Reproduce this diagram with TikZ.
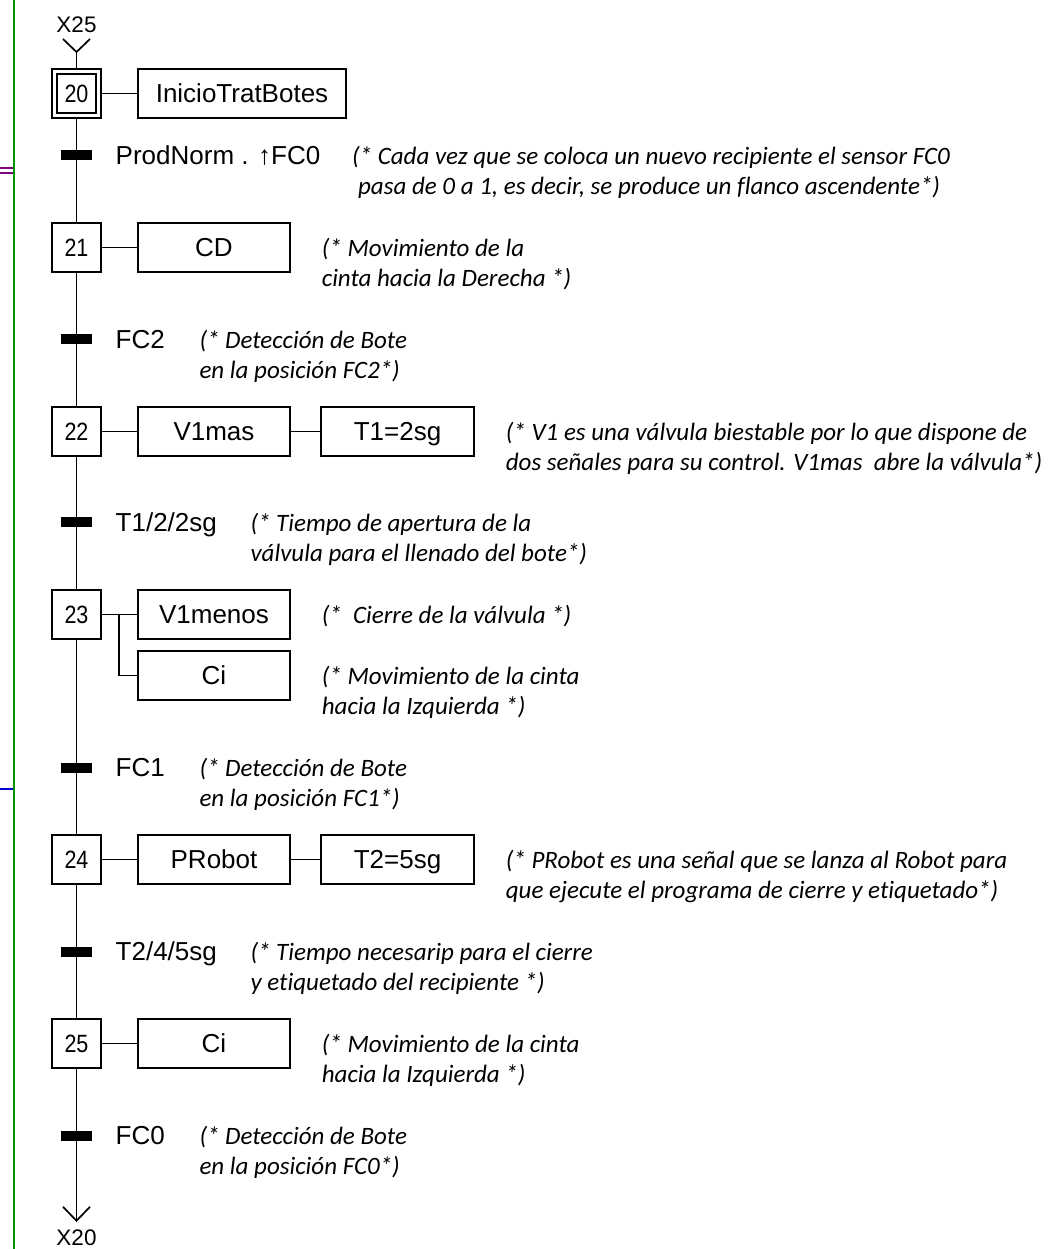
\documentclass[tikz,border=0pt]{standalone}
\usepackage{fontspec}
\usepackage{graphicx}
\setmainfont{Liberation Sans}
\newfontfamily\cmtfont[Ligatures=NoCommon]{Carlito}
\usetikzlibrary{arrows.meta,positioning}

\definecolor{railgreen}{RGB}{0,150,0}
\definecolor{linkpurple}{RGB}{128,0,128}
\definecolor{linkblue}{RGB}{0,0,210}

\newcommand{\numfont}{\fontsize{25}{28}\selectfont}
\newcommand{\reffont}{\fontsize{22.5}{26}\selectfont}
\newcommand{\lblfont}{\fontsize{26}{30}\selectfont}
\newcommand{\cmtstyle}{\cmtfont\itshape\fontsize{25}{30}\selectfont}
\newcommand{\stepnum}[1]{\scalebox{0.86}[1]{#1}}

\begin{document}
\begin{tikzpicture}[
  x=1pt, y=-1pt,
  line width=1.7pt,
  >={Straight Barb[length=14pt,width=27pt]},
  stepbox/.style={draw, minimum size=49pt, inner sep=0pt, outer sep=0pt,
                  font=\numfont, text height=18pt, text depth=0pt},
  act/.style    ={draw, minimum width=152pt, minimum height=49pt, inner sep=0pt,
                  outer sep=0pt, font=\lblfont, text height=18.5pt, text depth=0pt},
  bar/.style    ={fill=black, minimum width=31pt, minimum height=10pt, inner sep=0pt},
  trlbl/.style  ={font=\lblfont, inner sep=0pt, text height=18.5pt, text depth=0pt},
  cmt/.style    ={font=\cmtstyle, align=left, inner sep=0pt},
  twoline/.style={cmt, yshift=-30pt},
  ref/.style    ={font=\reffont, inner sep=0pt},
]
\useasboundingbox (0,0) rectangle (1049,1249);

%% ---------------- links to the rest of the chart ----------------
\draw[railgreen, line width=2.2pt] (14,0) -- (14,1249);
\draw[linkpurple, line width=2pt] (0,168.5) -- (13,168.5) (0,173.5) -- (13,173.5);
\draw[linkblue, line width=2pt] (0,789) -- (13,789);

%% ---------------- entry from X25 ----------------
\node[ref] (x25) at (76.5,25) {X25};
\coordinate (in25) at (76.5,52);
\draw (in25) +(-13.5,-13) -- (in25) -- +(13.5,-13);

%% ---------------- step 20 (initial) ----------------
\node[stepbox] (s20) at (76.5,93.5) {\stepnum{20}};
\node[stepbox, minimum size=39pt] (s20in) at (s20) {};
\node[act, minimum width=208pt, right=37pt of s20] (a20) {InicioTratBotes};

\node[bar] (t20) at (76.5,155) {};
\node[trlbl, right=22pt of t20] (l20) {ProdNorm . ↑FC0};
\node[twoline, right=30pt of l20.base east, anchor=base west] (c20)
  {(* Cada vez que se coloca un nuevo recipiente el sensor FC0\\
   \hspace{6pt}pasa de 0 a 1, es decir, se produce un flanco ascendente*)};

%% ---------------- step 21 ----------------
\node[stepbox] (s21) at (76.5,247.5) {\stepnum{21}};
\node[act, right=37pt of s21] (a21) {CD};
\node[twoline, right=31pt of a21.base east, anchor=base west] (c21)
  {(* Movimiento de la\\ cinta hacia la Derecha *)};

\node[bar] (t21) at (76.5,339) {};
\node[trlbl, right=22pt of t21] (l21) {FC2};
\node[twoline, right=33pt of l21.base east, anchor=base west] (c21t)
  {(* Detección de Bote\\ en la posición FC2*)};

%% ---------------- step 22 ----------------
\node[stepbox] (s22) at (76.5,431.5) {\stepnum{22}};
\node[act, right=37pt of s22] (a22a) {V1mas};
\node[act, minimum width=153pt, right=31pt of a22a] (a22b) {T1=2sg};
\node[twoline, right=31pt of a22b.base east, anchor=base west] (c22)
  {(* V1 es una válvula biestable por lo que dispone de\\
   dos señales para su control. V1mas\ \ abre la válvula*)};

\node[bar] (t22) at (76.5,522) {};
\node[trlbl, right=22pt of t22] (l22) {T1/2/2sg};
\node[twoline, right=32pt of l22.base east, anchor=base west] (c22t)
  {(* Tiempo de apertura de la\\ válvula para el llenado del bote*)};

%% ---------------- step 23 ----------------
\node[stepbox] (s23) at (76.5,614.5) {\stepnum{23}};
\node[act, right=37pt of s23] (a23a) {V1menos};
\node[act, below=12pt of a23a] (a23b) {Ci};
\node[cmt, right=31pt of a23a.base east, anchor=base west] (c23a)
  {(*\ \ Cierre de la válvula *)};
\node[twoline, right=31pt of a23b.base east, anchor=base west] (c23b)
  {(* Movimiento de la cinta\\ hacia la Izquierda *)};

\node[bar] (t23) at (76.5,767.5) {};
\node[trlbl, right=22pt of t23] (l23) {FC1};
\node[twoline, right=33pt of l23.base east, anchor=base west] (c23t)
  {(* Detección de Bote\\ en la posición FC1*)};

%% ---------------- step 24 ----------------
\node[stepbox] (s24) at (76.5,859.5) {\stepnum{24}};
\node[act, right=37pt of s24] (a24a) {PRobot};
\node[act, minimum width=153pt, right=31pt of a24a] (a24b) {T2=5sg};
\node[twoline, right=31pt of a24b.base east, anchor=base west] (c24)
  {(* PRobot es una señal que se lanza al Robot para\\
   que ejecute el programa de cierre y etiquetado*)};

\node[bar] (t24) at (76.5,951.5) {};
\node[trlbl, right=22pt of t24] (l24) {T2/4/5sg};
\node[twoline, right=32pt of l24.base east, anchor=base west] (c24t)
  {(* Tiempo necesarip para el cierre\\ y etiquetado del recipiente *)};

%% ---------------- step 25 ----------------
\node[stepbox] (s25) at (76.5,1043.5) {\stepnum{25}};
\node[act, right=37pt of s25] (a25) {Ci};
\node[twoline, right=31pt of a25.base east, anchor=base west] (c25)
  {(* Movimiento de la cinta\\ hacia la Izquierda *)};

\node[bar] (t25) at (76.5,1135.5) {};
\node[trlbl, right=22pt of t25] (l25) {FC0};
\node[twoline, right=33pt of l25.base east, anchor=base west] (c25t)
  {(* Detección de Bote\\ en la posición FC0*)};

%% ---------------- exit to X20 ----------------
\coordinate (in20) at (76.5,1222);
\node[ref] (x20) at (76.5,1238) {X20};

%% ---------------- links ----------------
\draw (in25) -- (s20);
\draw (s20) -- (s21);
\draw (s21) -- (s22);
\draw (s22) -- (s23);
\draw (s23) -- (s24);
\draw (s24) -- (s25);
\draw[->] (s25) -- (in20);

\draw (s20) -- (a20);
\draw (s21) -- (a21);
\draw (s22) -- (a22a);
\draw (a22a) -- (a22b);
\draw (s23) -- (a23a);
\draw (s23.east) ++(18,0) |- (a23b.west);
\draw (s24) -- (a24a);
\draw (a24a) -- (a24b);
\draw (s25) -- (a25);

\end{tikzpicture}
\end{document}
